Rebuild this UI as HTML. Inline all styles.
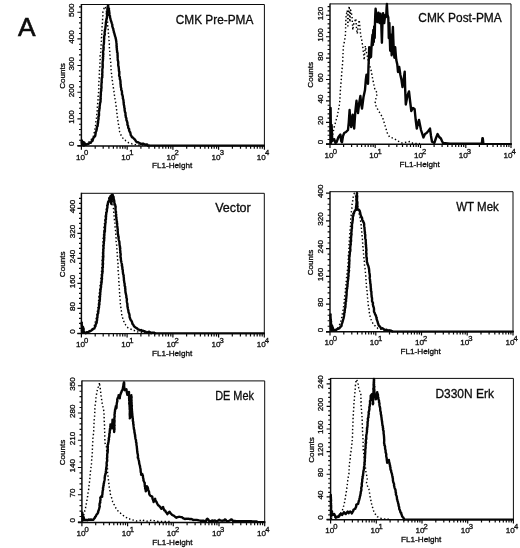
<!DOCTYPE html>
<html lang="en"><head><meta charset="utf-8"><title>Figure A</title>
<style>
html,body{margin:0;padding:0;background:#fff}
body{width:520px;height:548px;overflow:hidden}
svg{display:block}
text{font-family:"Liberation Sans", Arial, Helvetica, sans-serif;fill:#0c0c0c;stroke:#0c0c0c;stroke-width:0.3px}
.t8{font-size:8.1px}
.t7{font-size:7.7px}
.ax{stroke:#0a0a0a;fill:none}
.sol{stroke:#050505;fill:none;stroke-linejoin:round;stroke-linecap:round}
.dot{stroke:#000;stroke-width:1.45;fill:none;stroke-dasharray:1.4 2.3;stroke-linejoin:round}
</style></head>
<body>
<svg width="520" height="548" viewBox="0 0 520 548">
<rect width="520" height="548" fill="#fff"/>
<text x="18.1" y="36.4" style="font-size:26.3px;stroke-width:0.6px">A</text>
<g>
<path class="ax" stroke-width="1" d="M81.4 4.5 H264.4 V145.9"/>
<path class="ax" stroke-width="1.45" d="M81.4 4 V145.9 M77.4 145.9 H264.9"/>
<path class="ax" stroke-width="1.15" d="M77.4 145.5 H81.4M79 140.2 H81.4M79 134.8 H81.4M79 129.5 H81.4M79 124.2 H81.4M77.4 118.8 H81.4M79 113.5 H81.4M79 108.2 H81.4M79 102.8 H81.4M79 97.5 H81.4M77.4 92.2 H81.4M79 86.8 H81.4M79 81.5 H81.4M79 76.2 H81.4M79 70.8 H81.4M77.4 65.5 H81.4M79 60.2 H81.4M79 54.8 H81.4M79 49.5 H81.4M79 44.2 H81.4M77.4 38.8 H81.4M79 33.5 H81.4M79 28.2 H81.4M79 22.8 H81.4M79 17.5 H81.4M77.4 12.2 H81.4M79 6.8 H81.4"/>
<path class="ax" stroke-width="1.2" d="M81.4 145.9 V149.8M95.2 145.9 V148.7M103.2 145.9 V148.7M108.9 145.9 V148.7M113.4 145.9 V148.7M117 145.9 V148.7M120.1 145.9 V148.7M122.7 145.9 V148.7M125.1 145.9 V148.7M127.2 145.9 V149.8M140.9 145.9 V148.7M149 145.9 V148.7M154.7 145.9 V148.7M159.1 145.9 V148.7M162.8 145.9 V148.7M165.8 145.9 V148.7M168.5 145.9 V148.7M170.8 145.9 V148.7M172.9 145.9 V149.8M186.7 145.9 V148.7M194.7 145.9 V148.7M200.4 145.9 V148.7M204.9 145.9 V148.7M208.5 145.9 V148.7M211.6 145.9 V148.7M214.2 145.9 V148.7M216.6 145.9 V148.7M218.6 145.9 V149.8M232.4 145.9 V148.7M240.5 145.9 V148.7M246.2 145.9 V148.7M250.6 145.9 V148.7M254.3 145.9 V148.7M257.3 145.9 V148.7M260 145.9 V148.7M262.3 145.9 V148.7M264.4 145.9 V149.8"/>
<text class="t8" text-anchor="middle" transform="translate(73.9 143.7) rotate(-90)">0</text>
<text class="t8" text-anchor="middle" transform="translate(73.9 117) rotate(-90)">100</text>
<text class="t8" text-anchor="middle" transform="translate(73.9 90.4) rotate(-90)">200</text>
<text class="t8" text-anchor="middle" transform="translate(73.9 63.7) rotate(-90)">300</text>
<text class="t8" text-anchor="middle" transform="translate(73.9 37) rotate(-90)">400</text>
<text class="t8" text-anchor="middle" transform="translate(73.9 10.3) rotate(-90)">500</text>
<text class="t8" text-anchor="middle" transform="translate(64.6 76) rotate(-90)">Counts</text>
<text class="t8" x="76" y="159.6">10<tspan class="t7" dx="-0.9" dy="-4.2">0</tspan></text>
<text class="t8" x="121.2" y="159.6">10<tspan class="t7" dx="-0.9" dy="-4.2">1</tspan></text>
<text class="t8" x="166.4" y="159.6">10<tspan class="t7" dx="-0.9" dy="-4.2">2</tspan></text>
<text class="t8" x="211.6" y="159.6">10<tspan class="t7" dx="-0.9" dy="-4.2">3</tspan></text>
<text class="t8" x="256.8" y="159.6">10<tspan class="t7" dx="-0.9" dy="-4.2">4</tspan></text>
<text class="t8" text-anchor="middle" x="172.1" y="168.4" textLength="40.3" lengthAdjust="spacingAndGlyphs">FL1-Height</text>
<text style="font-size:12px" x="175.8" y="24.3" textLength="77.5" lengthAdjust="spacingAndGlyphs">CMK Pre-PMA</text>
<path class="dot" d="M82 145 L82.9 144.7 L84 144.5 L85 144.6 L85.9 144.6 L86.9 143.8 L87.9 142.8 L88.7 142.4 L89.4 141.3 L90.3 141 L91 139.9 L91.8 138.7 L92.4 137.9 L92.8 136.8 L93.4 136.2 L93.6 135 L94 133.9 L94.2 132.7 L94.2 131.8 L94.6 131 L94.7 130.1 L95 128.9 L95.2 128.1 L95.2 127 L95.5 126.1 L95.7 124.7 L95.9 123.6 L95.9 122.9 L95.9 121.6 L96 120.7 L96.3 119.6 L96.5 118.3 L96.5 117.4 L96.6 116.3 L96.8 115.5 L96.8 114.2 L96.8 113.2 L97 112.3 L97.2 110.9 L97.1 110.1 L97.1 108.9 L97.3 107.7 L97.3 107.1 L97.4 105.7 L97.6 105.1 L97.6 103.8 L97.8 103.1 L98 102 L97.9 100.7 L98 100 L98.2 98.5 L98.1 97.5 L98.1 96.6 L98.3 95.4 L98.2 94.4 L98.3 93.5 L98.6 92.5 L98.5 91.4 L98.6 90 L98.7 89.4 L98.8 88.3 L98.7 87 L98.6 86.1 L98.7 84.7 L98.8 83.8 L98.9 82.6 L98.9 81.7 L99 80.7 L99 80 L99.3 78.5 L99.2 77.6 L99.3 76.4 L99.5 75.9 L99.4 74.6 L99.3 73.3 L99.5 72.4 L99.6 71.2 L99.4 70.7 L99.6 69.2 L99.7 68 L99.7 67.6 L99.9 66.4 L99.7 65.1 L99.7 64.3 L99.9 63.3 L99.9 61.9 L100.1 61.3 L100.1 60.2 L100.2 59.1 L100.1 58 L100.2 56.7 L100.1 55.9 L100.3 55.1 L100.5 54 L100.6 53.3 L100.7 51.9 L100.5 50.8 L100.6 49.8 L100.8 49.2 L100.9 48 L100.9 47.2 L100.8 46.1 L101.1 45.2 L101.1 44 L101 43.1 L101.2 42.1 L101.4 40.9 L101.3 40.2 L101.5 38.7 L101.4 37.7 L101.7 37.1 L101.5 36.1 L101.9 35 L101.7 33.9 L101.7 32.5 L102.1 31.9 L102 31.1 L102 30 L102.2 28.6 L102.1 27.6 L102.1 26.7 L102.2 25.6 L102.2 24.9 L102.3 23.6 L102.5 22.8 L102.5 21.8 L102.6 20.5 L102.6 19.2 L102.6 18.3 L102.6 17.6 L102.7 16.4 L102.9 15.4 L102.8 14.4 L103 13.5 L102.9 12.3 L103.2 11.1 L103.6 10.2 L103.8 9.2 L104.1 8 L105 6.5 L105.5 7.9 L106 9 L106.2 10.3 L106.4 11.4 L106.6 12.1 L106.7 13.5 L106.9 14.1 L106.9 15.4 L107 16.3 L107 17.6 L107.3 18.8 L107.2 19.7 L107.5 20.4 L107.6 22 L107.5 23 L107.6 23.8 L107.9 25 L107.7 25.9 L107.9 26.9 L107.9 27.9 L108.2 28.8 L108.2 30.1 L108.2 31 L108.4 32.2 L108.4 33.5 L108.7 34.6 L108.6 35.2 L108.7 36.6 L108.8 37.2 L109 38.7 L109.2 39.4 L109 40.8 L109.2 41.7 L109.1 42.4 L109.4 43.6 L109.2 45 L109.5 45.9 L109.4 47 L109.4 48 L109.6 48.7 L109.7 50.1 L109.7 50.7 L109.8 51.7 L109.8 52.7 L109.8 53.8 L109.9 54.9 L110.2 55.9 L110.2 56.8 L110.2 57.7 L110.2 58.7 L110.5 60 L110.4 61 L110.7 61.8 L110.7 63 L110.7 64.2 L110.8 65 L110.9 66.3 L110.9 67.2 L111.1 68.1 L111.1 68.9 L111.1 69.8 L111.2 71.1 L111.4 71.8 L111.4 73.2 L111.8 74.1 L111.7 74.8 L111.8 76 L111.9 77 L112.1 78.3 L112.4 79 L112.3 80.3 L112.4 80.9 L112.5 81.9 L112.7 83 L112.8 84 L112.9 84.9 L113.1 85.9 L113.2 86.7 L113.4 87.8 L113.6 89 L113.8 90.1 L114 91.2 L114 91.9 L114.3 92.8 L114.4 94.1 L114.4 95.2 L114.8 96.1 L114.9 97.2 L114.8 98 L115.1 99.2 L115.3 100.2 L115.4 101.2 L115.6 102.1 L115.6 102.7 L115.7 103.9 L115.9 105.2 L116.1 106.1 L116.3 107.1 L116.4 107.7 L116.6 109.1 L116.6 110 L116.8 110.7 L116.9 111.9 L116.8 112.9 L117.1 113.8 L117.3 115.3 L117.3 115.9 L117.4 117.1 L117.6 118.1 L117.7 118.7 L117.7 119.9 L118 120.9 L118.1 121.7 L118.1 122.9 L118.4 124.1 L118.6 124.9 L118.7 126.1 L118.9 126.9 L119.2 128.1 L119.4 129.6 L119.3 130.4 L119.7 131.8 L120.1 132.5 L120.5 134 L120.9 134.9 L121.4 136 L122.3 136.8 L122.9 138.1 L123.6 139.3 L124.3 140.1 L125.2 140.3 L126 141.3 L127 141.9 L127.9 142.3 L128.9 142.9 L129.9 143.2 L131.1 143.2 L132.1 143.9 L133.1 143.9 L134 144.1 L135.1 144.5 L136 144.6 L136.9 144.5 L138 145 L139 145 L140 145.1 L141 145.1 L142 145.1 L143 145.1 L144 145.2 L145 145.2 L146 145.2 L147 145.2 L148 145.2 L149 145.3 L150 145.3"/>
<path class="sol" stroke-width="2.4" d="M81.8 140.5 L81.8 142 L82 143.2 L82.1 143.6 L82.4 144.7 L82.5 144.3 L83 143 L83.1 141.9 L83.4 142.7 L83.5 143.4 L83.7 145.6 L84.1 144.1 L84.2 142.5 L84.9 143.6 L85 144.8 L85.7 144.8 L87.1 144.2 L88.1 144 L89 143.5 L89.8 142.6 L90.9 142.7 L91.7 141.1 L92.5 140.9 L93 139.1 L93.3 138.2 L93.9 137.3 L94.4 136.6 L95 136.4 L95.4 134.9 L95.5 134 L95.7 132.8 L95.8 131.8 L96.5 130.6 L96.5 130.1 L96.9 128.7 L96.8 127.7 L97.1 126.8 L97.6 126.2 L97.8 124.4 L97.6 124 L98.1 122.7 L98.1 121.1 L98.1 121 L98.4 119.8 L98.6 118.1 L98.3 117 L98.7 116.4 L99 115.4 L99 114.3 L99 113.1 L98.9 112.3 L99.1 111.4 L99.4 109.8 L99.3 108.7 L99.7 108.1 L99.5 106.5 L99.8 106 L99.9 104.6 L100.1 103.4 L100.1 102.8 L100.5 102 L100.6 100.8 L100.3 99.5 L100.8 98.9 L100.5 97.2 L100.7 96.7 L100.7 95.3 L100.9 94.9 L100.8 92.9 L100.9 92.3 L101.1 91 L101.3 90.5 L101.2 88.9 L101.5 87.9 L101.5 86.8 L101.3 86.3 L101.4 85.5 L101.5 83.7 L101.5 82.9 L101.8 82.4 L101.6 80.9 L101.7 80.5 L101.7 78.6 L101.8 77.9 L102.3 77.4 L102.2 76.5 L102.4 74.8 L102.1 74.4 L102.4 72.5 L102.4 71.9 L102.3 70.8 L102.3 69.5 L102.4 68.9 L102.7 67.6 L102.8 66.7 L102.5 66.3 L102.8 64.9 L102.5 64 L102.7 63.4 L102.6 61.9 L103 60.5 L102.8 60.3 L103.1 58.5 L102.7 57.6 L103.2 56.8 L103.2 56.4 L103 54.8 L103.4 54.1 L103.1 53.2 L103.1 51.8 L103 51.3 L103.5 50.1 L103.6 48.5 L103.3 48 L103.7 47.5 L103.4 45.8 L103.6 45 L103.9 43.7 L103.9 43.2 L104 42.3 L104 40.8 L104 39.9 L104.3 38.6 L104.1 38.3 L104.2 36.6 L104.2 36.1 L104.4 35.5 L104.8 34.5 L104.6 32.6 L104.6 32 L105 30.9 L104.9 29.9 L105.2 29.2 L105.4 28.3 L105.5 26.6 L105.7 25.8 L105.7 24.9 L105.9 23.7 L105.8 22.7 L105.9 22.4 L106.2 20.8 L106.3 20.5 L106.5 18.7 L106.8 18.2 L107 16.6 L106.9 16.3 L107.2 15.4 L106.8 13.8 L107 12.7 L107.5 12.1 L107.5 10.9 L107.6 9.9 L107.3 9.3 L107.7 7.6 L107.6 7.1 L108.1 5.3 L108.3 6.4 L108.7 8.1 L109 8.8 L108.8 9.9 L109.2 10.9 L109.2 11.9 L109.5 13.3 L109.3 13.9 L109.5 15.5 L110 16.1 L110 17.7 L110.4 18.4 L110.7 20.1 L111 20.8 L111.3 21.7 L111.8 23.3 L111.9 23.6 L112.3 24.6 L112.3 26.4 L112.7 27.4 L113 28.5 L113.3 28.8 L113.4 30.2 L113.9 31.6 L113.9 32.4 L114.4 33.3 L114.5 34.1 L115 35.8 L115.1 36.4 L115.7 37.9 L115.6 38.1 L116.1 40 L116 40.1 L116.3 41.5 L116.4 42.7 L116.5 43.3 L116.6 44.4 L116.5 46.1 L116.8 46.4 L116.6 47.7 L116.9 48.7 L116.8 49.6 L117.2 51.3 L117 52 L117.4 52.5 L117.6 53.6 L117.5 55.1 L117.7 55.8 L117.6 57.1 L117.7 58.2 L117.8 58.9 L117.7 60.1 L118 60.7 L118.3 62.3 L118.2 62.7 L118.3 63.6 L118.2 64.9 L118.3 65.9 L118.6 66.5 L118.7 67.6 L118.9 69.3 L118.9 69.6 L118.9 70.9 L119.3 71.6 L119.3 73.5 L119.3 74.3 L119.1 75.5 L119.4 76.5 L119.8 76.7 L119.9 78.4 L119.7 78.9 L120.2 79.7 L120.4 80.8 L120.5 81.6 L120.5 83.4 L120.5 83.8 L120.8 84.8 L120.7 85.7 L120.9 87.4 L121.3 88.4 L121.2 89.3 L121.3 90 L121.8 90.9 L122 92.1 L122 93.4 L122 94.5 L122.4 94.9 L122.6 95.8 L122.9 97.1 L122.8 98.3 L123 98.7 L123.3 99.5 L123.5 100.8 L123.6 102.5 L123.7 103.2 L123.7 103.5 L123.8 104.6 L124.2 105.9 L124.3 107.4 L124.3 107.7 L124.7 108.5 L124.6 109.9 L124.8 110.9 L125 112.1 L125.4 112.7 L125.5 114 L125.5 115.4 L125.7 115.6 L125.8 117.1 L126.4 118.3 L126.4 118.8 L126.4 120.1 L126.9 120.9 L127.1 121.9 L127.5 123.2 L127.4 124.4 L127.6 125.1 L128.1 125.9 L128.2 127.5 L128.5 128.3 L129.2 129 L129.1 130.5 L129.6 131.6 L130.2 132.3 L130.5 133.6 L130.8 135.3 L131.6 136.2 L131.9 137.1 L133 137.6 L133.6 138.4 L134.1 138.8 L135 139.7 L136 141.3 L137.1 142.3 L138.1 142.2 L139 142.8 L140.1 143.4 L140.9 143.9 L142.2 143.7 L143.2 143.6 L143.9 144 L145.1 144.9 L146.1 144.4 L147.2 144.5 L147.9 145.6"/>
<path class="sol" stroke-width="2" d="M147.9 145.6 H264"/>
</g>
<g>
<path class="ax" stroke-width="1" d="M330 3.9 H511 V144.2"/>
<path class="ax" stroke-width="1.45" d="M330 3.4 V144.2 M326 144.2 H511.5"/>
<path class="ax" stroke-width="1.15" d="M326 143.8 H330M327.6 139.5 H330M327.6 135.2 H330M327.6 130.9 H330M327.6 126.7 H330M326 122.4 H330M327.6 118.1 H330M327.6 113.8 H330M327.6 109.5 H330M327.6 105.2 H330M326 100.9 H330M327.6 96.7 H330M327.6 92.4 H330M327.6 88.1 H330M327.6 83.8 H330M326 79.5 H330M327.6 75.2 H330M327.6 70.9 H330M327.6 66.7 H330M327.6 62.4 H330M326 58.1 H330M327.6 53.8 H330M327.6 49.5 H330M327.6 45.2 H330M327.6 40.9 H330M326 36.7 H330M327.6 32.4 H330M327.6 28.1 H330M327.6 23.8 H330M327.6 19.5 H330M326 15.2 H330M327.6 10.9 H330M327.6 6.6 H330"/>
<path class="ax" stroke-width="1.2" d="M330 144.2 V148.1M343.6 144.2 V147M351.6 144.2 V147M357.2 144.2 V147M361.6 144.2 V147M365.2 144.2 V147M368.2 144.2 V147M370.9 144.2 V147M373.2 144.2 V147M375.2 144.2 V148.1M388.9 144.2 V147M396.8 144.2 V147M402.5 144.2 V147M406.9 144.2 V147M410.5 144.2 V147M413.5 144.2 V147M416.1 144.2 V147M418.4 144.2 V147M420.5 144.2 V148.1M434.1 144.2 V147M442.1 144.2 V147M447.7 144.2 V147M452.1 144.2 V147M455.7 144.2 V147M458.7 144.2 V147M461.4 144.2 V147M463.7 144.2 V147M465.8 144.2 V148.1M479.4 144.2 V147M487.3 144.2 V147M493 144.2 V147M497.4 144.2 V147M501 144.2 V147M504 144.2 V147M506.6 144.2 V147M508.9 144.2 V147M511 144.2 V148.1"/>
<text class="t8" text-anchor="middle" transform="translate(323.1 142) rotate(-90)">0</text>
<text class="t8" text-anchor="middle" transform="translate(323.1 120.6) rotate(-90)">20</text>
<text class="t8" text-anchor="middle" transform="translate(323.1 99.1) rotate(-90)">40</text>
<text class="t8" text-anchor="middle" transform="translate(323.1 77.7) rotate(-90)">60</text>
<text class="t8" text-anchor="middle" transform="translate(323.1 56.3) rotate(-90)">80</text>
<text class="t8" text-anchor="middle" transform="translate(323.1 34.9) rotate(-90)">100</text>
<text class="t8" text-anchor="middle" transform="translate(323.1 13.4) rotate(-90)">120</text>
<text class="t8" text-anchor="middle" transform="translate(313.2 74.8) rotate(-90)">Counts</text>
<text class="t8" x="324.6" y="157.9">10<tspan class="t7" dx="-0.9" dy="-4.2">0</tspan></text>
<text class="t8" x="369.3" y="157.9">10<tspan class="t7" dx="-0.9" dy="-4.2">1</tspan></text>
<text class="t8" x="414" y="157.9">10<tspan class="t7" dx="-0.9" dy="-4.2">2</tspan></text>
<text class="t8" x="458.7" y="157.9">10<tspan class="t7" dx="-0.9" dy="-4.2">3</tspan></text>
<text class="t8" x="503.4" y="157.9">10<tspan class="t7" dx="-0.9" dy="-4.2">4</tspan></text>
<text class="t8" text-anchor="middle" x="419.7" y="166.7" textLength="40.3" lengthAdjust="spacingAndGlyphs">FL1-Height</text>
<text style="font-size:12px" x="418.3" y="22.1" textLength="83.4" lengthAdjust="spacingAndGlyphs">CMK Post-PMA</text>
<path class="dot" d="M331 142 L332.7 134.6 L334.2 127 L337.3 116 L339.6 103.8 L340.4 90 L341.6 75 L342.7 61.5 L343.3 47 L344.4 41.5 L345.5 34.6 L345.7 23 L346.2 15 L347.3 10.4 L347.9 26 L348.5 12 L349.2 6.2 L349.9 22 L350.6 10 L351.3 13 L352 15.4 L352.8 30 L353.5 24.6 L354.6 22 L355.8 18.5 L356.5 28 L357.3 33.8 L358.2 26 L359.2 20 L360 28 L360.7 35.4 L361.7 40 L362.7 46 L363.5 53 L364.2 60 L364.8 52 L365.3 46 L366 50 L366.5 52.3 L368.5 62 L371.2 70.8 L372.7 79 L375 90 L377.3 93 L376 98 L375 103.8 L376.5 107 L378 110 L380.5 114 L382.7 117.7 L385 125.4 L387.3 133 L389.6 137 L394.2 138.5 L397.3 140.8 L402 143 L410 141.5 L413 143.5 L420 143.6"/>
<path class="sol" stroke-width="2.4" d="M330.6 108 L331 143 L331.6 125 L332.3 141 L334.2 139.2 L335.5 143 L336.5 142.3 L338.5 137 L340.4 134.6 L341.2 141 L342 142.3 L343 136 L344.2 133 L346 132 L348 130 L348.8 122 L349.6 110 L350.4 122 L351.2 127 L352 118 L352.7 114.6 L353.5 124 L354.2 128.5 L355.3 112 L356.5 100.8 L357.2 108 L358 113 L359.2 103 L360.4 96 L361.2 104 L362 108.5 L363.5 97 L365 90 L365.8 80 L366.5 74.6 L367.2 80 L368 83.8 L368.5 66 L368.9 58 L369.2 47.3 L369.8 58 L370.4 47.5 L371 57 L371.5 46.7 L372 40 L372.5 34.6 L372.9 45 L373.3 30 L373.8 42 L374.2 26.5 L374.7 38 L375 23 L375.3 14 L375.6 8.7 L376.1 13 L376.7 15 L377 21 L377.3 22 L377.9 16 L378.5 12.7 L379 19 L379.6 23 L380 17 L380.5 13.8 L380.9 20 L381.3 24.2 L381.6 34 L381.9 42.7 L382.2 32 L382.5 23 L382.8 17 L383.1 13.3 L383.6 19 L384.2 23 L384.8 18 L385.4 15 L385.9 17 L386.3 13.8 L386.6 8 L386.9 4 L387.2 10 L387.5 15 L388.3 17.3 L388.6 29 L388.8 38 L389.1 29 L389.4 23 L389.8 38 L390.2 50.8 L390.6 42 L390.9 34.6 L391.3 46 L391.7 55.4 L392.3 40 L392.9 27 L393.3 39 L393.7 48.5 L394.4 57.7 L395.2 47.3 L395.8 55 L396.3 60 L397.3 64.6 L398 72 L399.2 67 L400.4 75 L401.5 80 L402.5 87 L403.6 80 L404.7 71.6 L405.2 90 L405.8 104.5 L407.4 96 L409 91.4 L410.2 102 L411.3 111 L413 108 L414.6 109 L415.7 120 L416.8 128.6 L418 123 L419 120 L421 130 L423.4 137.4 L425 134 L426.6 133 L428.3 131 L430 128.6 L431 136 L432 141.8 L434.3 143 L436 138 L437.6 134 L439.2 137 L440.9 138.5 L442 141 L443 143 L450 143.8 L470 143.8 L481.8 143.8 L482.4 138.3 L482.8 138.3 L483.4 143.8"/>
<path class="sol" stroke-width="2" d="M483.4 143.9 H511"/>
</g>
<g>
<path class="ax" stroke-width="1" d="M81.4 193.3 H264.3 V333.6"/>
<path class="ax" stroke-width="1.45" d="M81.4 192.8 V333.6 M77.4 333.6 H264.8"/>
<path class="ax" stroke-width="1.15" d="M77.4 333.3 H81.4M79 328.3 H81.4M79 323.3 H81.4M79 318.3 H81.4M79 313.3 H81.4M77.4 308.3 H81.4M79 303.3 H81.4M79 298.3 H81.4M79 293.3 H81.4M79 288.3 H81.4M77.4 283.3 H81.4M79 278.3 H81.4M79 273.3 H81.4M79 268.3 H81.4M79 263.3 H81.4M77.4 258.3 H81.4M79 253.3 H81.4M79 248.3 H81.4M79 243.3 H81.4M79 238.3 H81.4M77.4 233.3 H81.4M79 228.3 H81.4M79 223.3 H81.4M79 218.3 H81.4M79 213.3 H81.4M77.4 208.3 H81.4M79 203.3 H81.4M79 198.3 H81.4"/>
<path class="ax" stroke-width="1.2" d="M81.4 333.6 V337.5M95.2 333.6 V336.4M103.2 333.6 V336.4M108.9 333.6 V336.4M113.4 333.6 V336.4M117 333.6 V336.4M120 333.6 V336.4M122.7 333.6 V336.4M125 333.6 V336.4M127.1 333.6 V337.5M140.9 333.6 V336.4M148.9 333.6 V336.4M154.7 333.6 V336.4M159.1 333.6 V336.4M162.7 333.6 V336.4M165.8 333.6 V336.4M168.4 333.6 V336.4M170.8 333.6 V336.4M172.9 333.6 V337.5M186.6 333.6 V336.4M194.7 333.6 V336.4M200.4 333.6 V336.4M204.8 333.6 V336.4M208.4 333.6 V336.4M211.5 333.6 V336.4M214.1 333.6 V336.4M216.5 333.6 V336.4M218.6 333.6 V337.5M232.3 333.6 V336.4M240.4 333.6 V336.4M246.1 333.6 V336.4M250.5 333.6 V336.4M254.2 333.6 V336.4M257.2 333.6 V336.4M259.9 333.6 V336.4M262.2 333.6 V336.4M264.3 333.6 V337.5"/>
<text class="t8" text-anchor="middle" transform="translate(74.6 331.5) rotate(-90)">0</text>
<text class="t8" text-anchor="middle" transform="translate(74.6 306.5) rotate(-90)">80</text>
<text class="t8" text-anchor="middle" transform="translate(74.6 281.5) rotate(-90)">160</text>
<text class="t8" text-anchor="middle" transform="translate(74.6 256.5) rotate(-90)">240</text>
<text class="t8" text-anchor="middle" transform="translate(74.6 231.5) rotate(-90)">320</text>
<text class="t8" text-anchor="middle" transform="translate(74.6 206.5) rotate(-90)">400</text>
<text class="t8" text-anchor="middle" transform="translate(64.6 264.3) rotate(-90)">Counts</text>
<text class="t8" x="76" y="347.3">10<tspan class="t7" dx="-0.9" dy="-4.2">0</tspan></text>
<text class="t8" x="121.2" y="347.3">10<tspan class="t7" dx="-0.9" dy="-4.2">1</tspan></text>
<text class="t8" x="166.4" y="347.3">10<tspan class="t7" dx="-0.9" dy="-4.2">2</tspan></text>
<text class="t8" x="211.5" y="347.3">10<tspan class="t7" dx="-0.9" dy="-4.2">3</tspan></text>
<text class="t8" x="256.7" y="347.3">10<tspan class="t7" dx="-0.9" dy="-4.2">4</tspan></text>
<text class="t8" text-anchor="middle" x="172.1" y="356.1" textLength="40.3" lengthAdjust="spacingAndGlyphs">FL1-Height</text>
<text style="font-size:12px" x="215.2" y="212" textLength="35.6" lengthAdjust="spacingAndGlyphs">Vector</text>
<path class="dot" d="M82 332.5 L83.1 332.6 L84 332.4 L85 332 L85.9 332.1 L86.9 331.9 L87.9 331 L88.9 331.1 L90 330.3 L90.7 329.5 L91.8 329.1 L92.7 328.4 L93.4 327.6 L93.8 326.6 L94.4 325.6 L94.5 324.5 L95.2 323.4 L95.3 321.9 L95.7 320.7 L96.1 320.2 L96.2 319.2 L96.3 317.9 L96.3 316.8 L96.7 315.8 L96.7 315 L96.8 313.9 L97 313.1 L97.2 311.9 L97.5 311 L97.6 310.1 L97.5 308.9 L97.8 308.2 L98 307.1 L98.1 305.8 L98.3 304.8 L98.4 303.8 L98.3 302.8 L98.6 302.3 L98.5 301 L98.7 300.2 L98.7 299 L98.9 298.2 L98.9 297.3 L99 295.8 L99.3 295 L99.2 294.1 L99.3 293.2 L99.6 292.2 L99.6 290.9 L99.7 289.9 L99.9 288.8 L100 287.7 L99.9 286.9 L100.2 286 L100.2 285.2 L100.3 284 L100.5 283.2 L100.6 282.1 L100.6 280.9 L100.7 280.2 L100.9 279.1 L100.9 278 L101.2 277 L101.1 276 L101.4 274.8 L101.3 273.9 L101.6 273.2 L101.5 271.8 L101.6 270.9 L101.7 269.8 L101.7 268.8 L102 268.1 L101.8 267.3 L101.8 265.9 L102.1 265.2 L102.1 264 L102 263.1 L102.1 261.8 L102.2 260.7 L102.3 260.2 L102.4 259 L102.4 258 L102.3 257.1 L102.4 256.1 L102.6 255 L102.6 254.1 L102.5 252.8 L102.7 252.2 L102.7 251.1 L102.8 250.1 L102.7 249 L102.7 248.1 L102.6 247 L102.9 246.1 L102.9 244.9 L102.9 244 L103 242.9 L103.1 242.3 L103.1 241.1 L103.3 239.9 L103.3 239.3 L103.2 238 L103.3 237.2 L103.6 236 L103.5 235 L103.7 234.1 L103.7 233.1 L103.9 232 L103.8 231.3 L103.8 230.1 L104 229.2 L103.9 228.3 L104.1 226.7 L104.1 225.9 L104.2 225 L104.4 224.1 L104.5 222.9 L104.6 222.1 L104.9 221 L104.8 220.2 L105 218.8 L105 218.2 L105.3 217.1 L105.3 216 L105.4 215.3 L105.5 214.1 L105.8 213.2 L105.8 211.9 L106 210.8 L106.2 209.9 L106.4 208.9 L106.4 207.9 L106.6 206.8 L106.7 206.1 L106.9 204.8 L107.1 204 L107.3 203.1 L107.7 201.8 L108.1 201 L108.2 199.9 L108.8 198.8 L108.9 197.8 L109.4 196.2 L110.1 196 L111 194.9 L111.3 195.8 L111.7 197.2 L112.1 197.8 L112.6 199.2 L112.5 200.2 L112.7 201.2 L112.9 202.2 L113 203.2 L112.9 204.1 L113.1 205.1 L113.2 206.2 L113.3 206.9 L113.3 207.8 L113.5 208.7 L113.6 209.8 L113.7 211.1 L113.8 212.4 L113.8 213.4 L114 214.3 L114.1 215.6 L114.2 216.4 L114.4 217.3 L114.4 218.7 L114.4 219.7 L114.7 221 L114.6 222.1 L114.8 222.8 L115 223.6 L115 224.9 L115 226.1 L115.1 226.9 L115.3 228.1 L115.3 228.9 L115.4 230 L115.6 230.8 L115.7 231.9 L115.7 232.8 L115.8 234.3 L115.9 235.2 L115.9 236 L115.9 237.2 L116.1 238.3 L116 239.3 L116.3 240.2 L116.1 241.1 L116.2 242.1 L116.5 243.4 L116.5 244.5 L116.7 245.4 L116.6 246.5 L116.7 247.5 L116.8 248.3 L116.9 249.5 L117 250.3 L116.9 251.3 L117.2 252.9 L117.2 253.6 L117.4 254.9 L117.4 255.6 L117.4 256.7 L117.5 257.8 L117.7 259.1 L117.6 259.9 L117.7 260.7 L118 262 L118.1 263 L117.9 264 L118.1 265.3 L118.3 266.1 L118.1 266.9 L118.2 268 L118.1 268.9 L118.1 270.4 L118.2 271.6 L118.2 272.6 L118.3 273.1 L118.5 274.3 L118.6 275.3 L118.4 276.6 L118.7 277.7 L118.8 278.3 L118.8 279.7 L118.8 280.8 L118.8 281.9 L119 282.3 L118.9 283.8 L119.2 284.4 L119.1 285.9 L119.1 287 L119.2 287.5 L119.3 288.8 L119.4 289.9 L119.3 291 L119.5 291.9 L119.6 292.8 L119.6 294 L119.9 295.1 L119.8 295.8 L119.8 297.2 L120 298.1 L120 299 L120.2 300.1 L120.2 300.8 L120.2 302.2 L120.3 303.1 L120.4 304.2 L120.6 304.9 L120.5 305.9 L120.8 307.2 L121 308.4 L120.9 309.4 L121.3 310.5 L121.4 311.2 L121.6 312.5 L121.7 313.6 L121.7 314.2 L121.9 315.6 L121.9 316.7 L122.5 317.4 L122.8 318.6 L123.1 319.4 L123.4 320.7 L123.9 321.6 L124.1 322.8 L124.9 323.4 L125.5 324.7 L126.2 325.4 L126.7 326.3 L127.2 327 L128.1 327.9 L129.1 328.4 L130.1 328.9 L131 329.2 L132.1 329.9 L133 330.5 L134.3 330.5 L135.4 331 L136.5 331.2 L137.4 331.9 L138.7 331.8 L139.7 331.8 L140.8 332 L141.9 332.3 L143 332.6 L143.9 332.2 L145 332.6"/>
<path class="sol" stroke-width="2.4" d="M81.8 322.6 L81.7 323.3 L81.7 324.2 L82 326.1 L82 327.2 L82.3 327.4 L82.2 328.8 L82 330.4 L82.1 331 L82.4 332.5 L82.5 330.9 L82.6 329.7 L83 329.5 L82.7 327.5 L82.9 326.9 L83.4 328.5 L83.6 328.7 L83.7 330.4 L83.9 331.8 L83.8 332 L85.9 333.2 L87 332.1 L88.1 332.3 L89.1 331.6 L90.3 331.1 L91.3 330.5 L92.2 329.8 L93.3 329 L94.3 328.5 L94.4 328.2 L94.8 327.2 L95.5 326.1 L95.6 324.6 L95.9 324.1 L96.7 322.7 L96.7 321.4 L97 320.5 L97.1 319.1 L97.1 317.9 L97.5 317.3 L97.4 316.6 L97.6 315.1 L97.7 313.9 L98.3 312.9 L98.1 312 L98.4 311.3 L98.4 310.3 L98.6 309.2 L99 307.5 L99 306.6 L99 305.5 L99.1 305.3 L99.5 304.2 L99.2 302.6 L99.7 301.4 L99.7 300.6 L99.9 299.3 L99.9 298.6 L99.7 297.3 L100.1 296.8 L99.9 295.7 L100.3 294.5 L100.2 293.4 L100.1 293.1 L100.5 291.5 L100.3 290.4 L100.7 289.8 L100.6 288.4 L100.9 287.9 L101.1 286.8 L100.9 285.2 L101.3 284.6 L101.4 283.2 L101.6 282.4 L101.7 281.9 L101.6 280.1 L101.9 279.5 L102 278.3 L101.8 277.8 L102 276.1 L102.1 275.5 L102 274.4 L102.4 273.4 L102.3 272.6 L102.7 271.7 L102.5 270.5 L102.6 269.5 L102.4 268.6 L102.9 267.2 L102.8 266.2 L102.8 264.7 L103.1 263.9 L102.8 262.7 L102.9 262.4 L102.8 260.7 L103.2 259.7 L102.9 259.1 L103.2 258 L103.3 256.6 L103.4 256.1 L103.1 254.5 L103.3 253.8 L103.2 252.4 L103.3 251.4 L103.4 251 L103.2 249.7 L103.6 248.3 L103.6 248 L103.4 246.4 L103.7 245.5 L103.6 244.9 L103.9 243.3 L103.7 242.3 L103.8 242 L104.1 240.9 L104.2 239.8 L103.9 238.5 L104.4 237.9 L104.1 236.4 L104.4 235.4 L104.4 234.1 L104.4 233.5 L104.3 232.1 L104.9 231.8 L104.9 230.6 L104.9 229.9 L105 228 L105 227.3 L105.1 226.3 L105.1 225.9 L105.3 224.1 L105.4 223.2 L105.7 222 L105.5 221.3 L105.5 220.2 L106 219 L105.8 217.9 L106.1 216.5 L106 215.4 L106.2 214.6 L106.3 213.4 L106.3 212.6 L106.8 211.7 L106.9 210.7 L106.9 209.7 L107.1 208.6 L107.4 207.5 L107.4 206.2 L107.5 205.5 L107.8 204.5 L107.8 203.3 L108.5 202.1 L108.7 201.3 L108.9 200.8 L109.2 199.5 L109.5 197.8 L110.2 197.1 L110.4 196.4 L110.7 197.8 L110.6 198.4 L111.1 200 L110.8 200.6 L111 202 L111.2 203.3 L111.4 204 L111.4 203.2 L111.5 201.8 L111.6 200.9 L111.7 199.3 L111.8 198.1 L111.8 197.6 L111.7 196.8 L111.9 195.2 L112 194.6 L112.7 194.9 L113 196.1 L113.6 197 L113.6 198.3 L113.8 199.1 L114.2 200.6 L114.3 201.3 L114.3 202.2 L114.5 203.5 L114.9 204 L115.3 205.3 L115.5 206.8 L115.6 207.2 L115.5 209 L115.4 209.1 L115.7 210.6 L116 211.9 L115.9 213.1 L116 213.7 L116.2 214.6 L116.1 215.8 L116.2 217.2 L116.5 217.8 L116.3 218.7 L116.6 219.9 L116.7 221.2 L117 221.8 L116.9 223 L117.2 223.7 L117.1 225.2 L117 225.7 L117.5 227.2 L117.4 227.5 L117.7 229.1 L117.8 230.4 L117.9 230.9 L117.6 231.8 L117.9 233 L117.8 233.7 L118.2 235.1 L118.3 236.6 L118.6 236.7 L118.6 238.5 L118.7 239.4 L118.8 240.1 L119.3 241.4 L119.4 242 L119.5 243.4 L119.5 244.6 L119.8 246 L120 246.4 L119.9 247.2 L120.3 248.2 L120 249.3 L120.3 251 L120.4 252 L120.2 252.3 L120.6 253.6 L120.7 254.7 L120.5 255.7 L120.5 257.4 L120.8 257.8 L120.9 258.9 L120.9 260.4 L121.3 261.5 L121.4 262.2 L121.5 262.7 L122 264.5 L121.8 265.6 L122.2 266 L122.3 267.7 L122.4 268.7 L122.4 269.2 L122.8 270 L122.8 271.7 L123 272.7 L123 273.2 L123.2 274.3 L123.7 275.4 L123.6 276.3 L123.8 277.7 L123.9 278.4 L123.9 280.3 L124.1 280.7 L124.2 281.8 L124.3 282.6 L124.7 283.9 L124.6 285.3 L124.7 285.9 L125.2 286.8 L125.1 288.6 L125.4 288.9 L125.3 290.5 L125.5 291.8 L125.5 292.8 L125.8 293.1 L125.9 294.1 L126.2 295.2 L126.4 296.6 L126.3 297.3 L126.6 298.2 L126.9 299.2 L126.8 300.6 L126.9 301.9 L127.1 302.8 L127.3 303.5 L127.4 304.3 L127.4 306.1 L127.6 306.9 L127.7 307.8 L127.9 308.8 L128.1 309.4 L128.4 310.7 L128.5 312.2 L128.9 313 L129.4 314.4 L129.6 315.6 L129.5 316.1 L129.7 317.5 L130.2 318.3 L130.4 319.7 L131 320.2 L131.7 321.4 L132.1 322.2 L132.4 323.9 L133.2 324.7 L133.4 325 L134 326.2 L135.1 327.1 L135.9 327.8 L137.1 328.4 L138.2 329.6 L139.1 329.6 L140 330.4 L141 330 L142.3 331.1 L143.1 330.7 L144.4 331.6 L145.1 331.4 L146.2 332.1 L147.4 332.4 L148.8 331.7 L149.9 332.2 L151 333.2 L152 332.6 L153 332.6 L154 332.6 L155 333.2"/>
<path class="sol" stroke-width="2" d="M155 333.3 H264"/>
</g>
<g>
<path class="ax" stroke-width="1" d="M330 191.7 H513 V331.7"/>
<path class="ax" stroke-width="1.45" d="M330 191.2 V331.7 M326 331.7 H513.5"/>
<path class="ax" stroke-width="1.15" d="M326 331.8 H330M327.6 326.2 H330M327.6 320.7 H330M327.6 315.2 H330M327.6 309.6 H330M326 304.1 H330M327.6 298.5 H330M327.6 292.9 H330M327.6 287.4 H330M327.6 281.9 H330M326 276.3 H330M327.6 270.8 H330M327.6 265.2 H330M327.6 259.6 H330M327.6 254.1 H330M326 248.6 H330M327.6 243 H330M327.6 237.5 H330M327.6 231.9 H330M327.6 226.4 H330M326 220.8 H330M327.6 215.2 H330M327.6 209.7 H330M327.6 204.2 H330M327.6 198.6 H330M326 193.1 H330"/>
<path class="ax" stroke-width="1.2" d="M330 331.7 V335.6M343.8 331.7 V334.5M351.8 331.7 V334.5M357.5 331.7 V334.5M362 331.7 V334.5M365.6 331.7 V334.5M368.7 331.7 V334.5M371.3 331.7 V334.5M373.7 331.7 V334.5M375.8 331.7 V335.6M389.5 331.7 V334.5M397.6 331.7 V334.5M403.3 331.7 V334.5M407.7 331.7 V334.5M411.4 331.7 V334.5M414.4 331.7 V334.5M417.1 331.7 V334.5M419.4 331.7 V334.5M421.5 331.7 V335.6M435.3 331.7 V334.5M443.3 331.7 V334.5M449 331.7 V334.5M453.5 331.7 V334.5M457.1 331.7 V334.5M460.2 331.7 V334.5M462.8 331.7 V334.5M465.2 331.7 V334.5M467.2 331.7 V335.6M481 331.7 V334.5M489.1 331.7 V334.5M494.8 331.7 V334.5M499.2 331.7 V334.5M502.9 331.7 V334.5M505.9 331.7 V334.5M508.6 331.7 V334.5M510.9 331.7 V334.5M513 331.7 V335.6"/>
<text class="t8" text-anchor="middle" transform="translate(323.1 330) rotate(-90)">0</text>
<text class="t8" text-anchor="middle" transform="translate(323.1 302.2) rotate(-90)">80</text>
<text class="t8" text-anchor="middle" transform="translate(323.1 274.5) rotate(-90)">160</text>
<text class="t8" text-anchor="middle" transform="translate(323.1 246.8) rotate(-90)">240</text>
<text class="t8" text-anchor="middle" transform="translate(323.1 219) rotate(-90)">320</text>
<text class="t8" text-anchor="middle" transform="translate(323.1 191.2) rotate(-90)">400</text>
<text class="t8" text-anchor="middle" transform="translate(313.2 262.5) rotate(-90)">Counts</text>
<text class="t8" x="324.6" y="345.4">10<tspan class="t7" dx="-0.9" dy="-4.2">0</tspan></text>
<text class="t8" x="369.8" y="345.4">10<tspan class="t7" dx="-0.9" dy="-4.2">1</tspan></text>
<text class="t8" x="415" y="345.4">10<tspan class="t7" dx="-0.9" dy="-4.2">2</tspan></text>
<text class="t8" x="460.2" y="345.4">10<tspan class="t7" dx="-0.9" dy="-4.2">3</tspan></text>
<text class="t8" x="505.4" y="345.4">10<tspan class="t7" dx="-0.9" dy="-4.2">4</tspan></text>
<text class="t8" text-anchor="middle" x="420.7" y="354.2" textLength="40.3" lengthAdjust="spacingAndGlyphs">FL1-Height</text>
<text style="font-size:12px" x="456.2" y="210.8" textLength="42.6" lengthAdjust="spacingAndGlyphs">WT Mek</text>
<path class="dot" d="M331 331 L331.9 330.5 L333.1 330.5 L334.1 330.4 L335.1 330.2 L335.9 329.3 L336.6 328.9 L337.6 328.1 L338.6 327.3 L339 326.2 L339.3 325.7 L339.6 324.6 L340.2 323.6 L340.4 322.4 L340.7 321.5 L341.2 320.4 L341.3 319.4 L341.6 318.7 L341.7 317.4 L342 316.5 L342.3 315.4 L342.3 314.7 L342.4 313.5 L342.7 312.6 L342.9 311.5 L343 310.4 L343.3 309.3 L343.6 308.5 L343.5 307.1 L343.7 306 L343.7 305 L343.9 304.2 L344.1 302.8 L344.1 301.9 L344.3 300.7 L344.3 299.5 L344.7 298.9 L344.5 297.8 L344.9 296.7 L344.8 295.6 L345 294.3 L345.1 293.2 L345.3 292.5 L345.3 291.7 L345.4 290.2 L345.4 289.1 L345.5 288.5 L345.8 287.1 L345.7 286.3 L346 285.5 L345.9 284.3 L346.2 283.3 L346.1 281.9 L346.4 281 L346.4 280.1 L346.5 279.2 L346.5 277.7 L346.7 277 L346.9 276.1 L347 275.2 L347 273.9 L347 272.8 L347.2 271.6 L347.4 270.6 L347.4 270.1 L347.4 268.5 L347.6 267.6 L347.8 266.5 L347.9 266 L348 264.7 L347.9 263.8 L348.1 262.6 L348.1 261.6 L348.2 260.9 L348.3 259.4 L348.2 258.6 L348.3 257.5 L348.3 256.4 L348.3 255.6 L348.6 254.8 L348.6 253.9 L348.7 252.6 L348.7 251.3 L348.7 250.6 L348.6 249.6 L348.9 248.5 L348.8 247.4 L348.8 246.7 L348.8 245.2 L349.1 244.4 L349 243.5 L349.2 242.4 L349.3 241.3 L349.4 240.2 L349.3 239 L349.6 238.2 L349.5 237.4 L349.6 235.9 L349.8 235 L349.8 234.1 L349.8 233.1 L349.9 232 L350.1 230.7 L350.1 229.7 L350.2 229.2 L350.3 228.1 L350.4 226.7 L350.5 226 L350.3 225.1 L350.5 223.7 L350.7 222.9 L350.7 221.6 L350.8 220.6 L350.7 219.7 L350.7 218.8 L350.8 217.6 L351.1 216.7 L351.2 215.8 L351.2 214.8 L351.3 213.9 L351.2 212.8 L351.4 211.7 L351.6 210.7 L351.5 209.3 L351.8 208.6 L352 207 L352 206 L352.1 205.3 L352.1 204.3 L352.4 202.9 L352.4 201.9 L352.7 200.9 L352.6 199.5 L352.8 198.8 L353.1 197.6 L353.4 196.5 L353.7 195.1 L354.1 194.2 L354.3 193.2 L354.8 193.7 L355.1 194.8 L355.6 196.2 L355.9 196.7 L355.9 198.2 L356.3 198.9 L356.4 199.8 L356.7 200.9 L356.9 202.1 L356.9 202.9 L357.1 204.2 L357.5 204.7 L357.5 205.9 L357.8 207 L358 207.9 L358.1 209 L358.5 209.7 L358.7 211.3 L358.7 211.8 L359.1 212.9 L359.2 214 L359.4 215 L359.6 216.3 L360 216.7 L360 218.2 L360.3 219.2 L360.4 220.2 L360.6 221.1 L360.9 222.6 L361.1 223.5 L361.1 224.7 L361.4 225.5 L361.4 226.5 L361.5 227.5 L361.4 228.5 L361.5 229.9 L361.7 230.5 L361.7 231.5 L361.8 232.4 L361.8 233.9 L362 234.7 L362.1 235.6 L362.1 236.5 L362.2 237.6 L362.4 238.8 L362.5 239.7 L362.6 240.9 L362.4 241.7 L362.7 243.3 L362.7 244.2 L362.8 245.4 L362.8 246.2 L363.1 247.2 L363 248.1 L363.1 249.3 L363.3 250.3 L363.3 251.4 L363.4 252.8 L363.5 253.5 L363.7 255 L363.7 255.5 L363.9 257.1 L363.9 257.7 L363.9 258.9 L364.2 260 L364.3 260.8 L364.3 262.2 L364.5 263 L364.6 264 L364.5 265.1 L364.6 266.3 L364.8 267.2 L365 268.1 L365.1 269 L365.3 270.4 L365.4 271.1 L365.4 272.6 L365.4 273.2 L365.4 274.3 L365.7 275.3 L365.8 276.5 L365.8 277.6 L365.9 278.7 L366 279.5 L366.1 280.5 L366.2 281.8 L366.3 282.6 L366.3 284 L366.3 284.6 L366.4 286 L366.4 286.5 L366.6 287.9 L366.8 288.8 L366.9 289.7 L367 290.7 L366.9 291.7 L367 293 L367.2 293.8 L367.4 294.9 L367.3 295.8 L367.6 297.3 L367.5 297.8 L367.8 299 L367.9 300.1 L367.9 301.1 L368.1 302.2 L368.1 303.5 L368.1 304.4 L368.3 305.4 L368.5 306.5 L368.5 307.4 L368.8 308.6 L369.1 309.5 L369 310.3 L369.1 311.4 L369.3 312.3 L369.5 313.6 L369.5 314.8 L369.9 315.6 L370.2 316.9 L370.7 317.6 L371 319 L371.2 319.8 L371.7 321.2 L371.9 322.1 L372.6 322.8 L373.2 323.8 L373.7 324.6 L374.4 325.4 L375.1 325.8 L376.1 327.1 L376.9 327.2 L377.9 328.6 L378.9 328.9 L379.9 329.2 L380.9 329.2 L382.1 329.5 L383 330.4 L384.1 330.7 L385.1 330.3 L385.9 330.8 L387.1 330.4 L388 330.6 L389 330.6 L389.9 331.2 L390.9 331.2 L392 331"/>
<path class="sol" stroke-width="2.4" d="M330.6 314.5 L330.5 315.5 L330.5 316.5 L330.6 317.8 L330.6 318.9 L330.8 319.3 L330.8 320.7 L331.1 321.6 L330.8 323.2 L331.2 324 L330.9 324.5 L330.9 325.4 L330.9 326.9 L331.1 328 L331.1 328.5 L331.3 330.2 L331.4 329 L331.6 328.5 L331.9 327.2 L331.8 325.8 L332 325.5 L332.1 326 L332.4 326.8 L332.8 327.8 L332.9 329.8 L332.9 330.6 L334.1 330.3 L335 329.8 L336.2 330.1 L337.2 328.9 L338 328.8 L338.9 328.6 L339.5 328.2 L340.2 327.1 L341.4 326 L341.6 325.4 L341.7 324 L342.3 322.7 L342.6 321.6 L342.8 320.8 L343.2 319.4 L343.5 318.6 L343.7 317.6 L343.8 316.9 L344.1 315.7 L344.2 314.4 L344.2 313.1 L344.7 312.4 L344.6 311.4 L344.9 310.1 L344.7 309.7 L345 308.5 L345.3 307.7 L345.5 305.8 L345.3 305.6 L345.7 303.9 L345.5 303 L345.6 302.1 L346.1 301.2 L346 299.7 L346 299.6 L346.3 298 L346.3 297.4 L346.5 295.7 L346.6 294.9 L346.6 293.7 L346.6 292.8 L346.7 291.5 L346.8 291 L346.8 289.6 L347.2 288.6 L347.1 287.6 L347.5 286.4 L347.5 286.1 L347.4 284.7 L347.7 283.8 L347.6 282.2 L347.8 281.5 L348 280.4 L348 279.8 L348.3 278.4 L348.1 277.6 L348.5 276.2 L348.6 275.7 L348.4 274.6 L348.5 273 L348.8 272.3 L348.8 271.4 L349.1 270.6 L348.7 269.4 L348.9 268.3 L349.2 267.2 L349.1 266.7 L349.1 265.2 L349.2 264.5 L349.3 263.4 L349.2 261.7 L349.4 261.2 L349.5 260.4 L349.2 258.8 L349.3 258.4 L349.3 256.6 L349.7 256.1 L349.5 255.1 L349.9 253.9 L349.7 253 L350 251.8 L350.3 251 L350.4 249.3 L350.2 248.6 L350.2 248 L350.4 246.2 L350.5 245.2 L350.8 244.5 L350.7 243.3 L350.5 242.1 L351 241.6 L351.1 240 L350.8 238.8 L351.1 238.1 L351.1 237.2 L351.2 236 L351.4 234.8 L351.6 234.1 L351.2 232.8 L351.5 231.9 L351.6 230.8 L351.6 230.2 L351.7 229 L352 227.9 L351.9 227.2 L352 226.1 L351.9 224.6 L352.3 223.1 L352.5 222.1 L352.5 221.1 L352.7 220.5 L352.8 219.4 L352.8 218.5 L352.8 216.9 L353.3 215.8 L353.5 214.8 L353.3 213.6 L354 213.2 L354.3 211.7 L355.2 210.4 L356.3 209.1 L356 208.6 L356 207.6 L356.2 206 L356.4 205 L356.4 203.8 L356.6 203 L356.6 201.7 L356.6 201.5 L356.4 199.5 L356.5 199.1 L356.4 197.9 L356.4 196.8 L356.8 195.7 L356.8 194.3 L356.9 193.3 L357 193.1 L357.1 193.7 L356.8 194.6 L357.1 195.8 L357.2 196.4 L357 198.2 L357.1 199 L356.9 199.6 L357 201.4 L357.3 201.8 L357.4 202.7 L357.3 204.6 L357.2 205.7 L357.4 205.8 L357.2 207.3 L357.2 208.6 L357.2 209.7 L358.4 209.4 L359.6 210.6 L360 212.3 L360.3 213 L360.4 214.1 L360.8 215.3 L361.1 216.3 L361.6 217.1 L362.1 218 L362.2 219.8 L362.6 220.7 L363.3 221.4 L363.3 222 L364 223.1 L364.2 224.5 L364.1 225.5 L364.3 226.7 L364.5 227.6 L364.5 228.7 L364.6 229.5 L364.7 231.3 L365 232.4 L364.8 233.5 L365.2 234.4 L365.3 235.4 L365.2 236.5 L365.2 237 L365.2 238.2 L365.5 239.1 L365.8 239.9 L365.7 241.1 L365.8 242.7 L365.9 243 L365.7 244.5 L366.1 245 L366 246.7 L366.2 247.4 L366.2 248.5 L366.4 249.1 L366.4 250.5 L366.2 251.2 L366.2 252.9 L366.5 253.4 L366.4 254.4 L366.3 255.5 L366.5 257.3 L366.9 258.2 L366.7 258.9 L366.9 260.4 L366.9 261.1 L366.9 262.2 L367.5 263.4 L367.5 264.3 L367.9 264.8 L368.5 266.4 L368.6 266.9 L369 268.7 L369.1 269.6 L369.2 270.7 L369.2 271.3 L369.4 272.7 L369.5 273.2 L369.7 274.5 L369.8 275.1 L369.9 276.8 L369.6 277.9 L369.7 278.3 L370 279.3 L370.1 281 L370.3 281.9 L370.2 283 L370.5 283.9 L370.7 285 L370.6 285.3 L370.8 287.1 L370.7 287.9 L371.1 289.1 L370.8 289.8 L370.9 290.5 L371.4 291.8 L371.4 292.8 L371.4 293.6 L371.5 295.3 L371.7 295.7 L371.6 296.7 L372 297.9 L372.1 299.3 L372 300.2 L372.1 301.4 L372.4 301.9 L373 303 L372.8 304.6 L373.2 305.6 L373.2 306.2 L373.7 307.3 L373.9 308 L374 309 L374 309.9 L374 311.8 L374.6 312.7 L374.8 313.3 L375.2 314.5 L375.9 315.5 L376.1 316.9 L376.7 317.7 L376.5 318.7 L377 320 L377.2 320.8 L377.6 321.5 L377.8 322.8 L378.2 323.7 L378.6 325.1 L379.1 325.9 L380 326.5 L380.5 327.6 L381.4 328.5 L382.4 328.2 L383.2 328.7 L384.6 329.9 L385.3 330 L386.5 329.8 L387.5 330.6 L388.8 330.3 L389.9 330.4 L390.9 330.6 L392.2 331.3"/>
<path class="sol" stroke-width="2" d="M392.2 331.4 H513"/>
</g>
<g>
<path class="ax" stroke-width="1" d="M81.9 380.9 H264.7 V522.4"/>
<path class="ax" stroke-width="1.45" d="M81.9 380.4 V522.4 M77.9 522.4 H265.2"/>
<path class="ax" stroke-width="1.15" d="M77.9 522 H81.9M79.5 516.5 H81.9M79.5 511.1 H81.9M79.5 505.6 H81.9M79.5 500.2 H81.9M77.9 494.7 H81.9M79.5 489.3 H81.9M79.5 483.8 H81.9M79.5 478.4 H81.9M79.5 472.9 H81.9M77.9 467.5 H81.9M79.5 462 H81.9M79.5 456.6 H81.9M79.5 451.1 H81.9M79.5 445.7 H81.9M77.9 440.2 H81.9M79.5 434.8 H81.9M79.5 429.3 H81.9M79.5 423.9 H81.9M79.5 418.4 H81.9M77.9 413 H81.9M79.5 407.5 H81.9M79.5 402.1 H81.9M79.5 396.6 H81.9M79.5 391.2 H81.9M77.9 385.7 H81.9"/>
<path class="ax" stroke-width="1.2" d="M81.9 522.4 V526.3M95.7 522.4 V525.2M103.7 522.4 V525.2M109.4 522.4 V525.2M113.8 522.4 V525.2M117.5 522.4 V525.2M120.5 522.4 V525.2M123.2 522.4 V525.2M125.5 522.4 V525.2M127.6 522.4 V526.3M141.4 522.4 V525.2M149.4 522.4 V525.2M155.1 522.4 V525.2M159.5 522.4 V525.2M163.2 522.4 V525.2M166.2 522.4 V525.2M168.9 522.4 V525.2M171.2 522.4 V525.2M173.3 522.4 V526.3M187.1 522.4 V525.2M195.1 522.4 V525.2M200.8 522.4 V525.2M205.2 522.4 V525.2M208.9 522.4 V525.2M211.9 522.4 V525.2M214.6 522.4 V525.2M216.9 522.4 V525.2M219 522.4 V526.3M232.8 522.4 V525.2M240.8 522.4 V525.2M246.5 522.4 V525.2M250.9 522.4 V525.2M254.6 522.4 V525.2M257.6 522.4 V525.2M260.3 522.4 V525.2M262.6 522.4 V525.2M264.7 522.4 V526.3"/>
<text class="t8" text-anchor="middle" transform="translate(74.5 520.2) rotate(-90)">0</text>
<text class="t8" text-anchor="middle" transform="translate(74.5 492.9) rotate(-90)">70</text>
<text class="t8" text-anchor="middle" transform="translate(74.5 465.7) rotate(-90)">140</text>
<text class="t8" text-anchor="middle" transform="translate(74.5 438.4) rotate(-90)">210</text>
<text class="t8" text-anchor="middle" transform="translate(74.5 411.2) rotate(-90)">280</text>
<text class="t8" text-anchor="middle" transform="translate(74.5 383.9) rotate(-90)">350</text>
<text class="t8" text-anchor="middle" transform="translate(65.1 452.4) rotate(-90)">Counts</text>
<text class="t8" x="76.5" y="536.1">10<tspan class="t7" dx="-0.9" dy="-4.2">0</tspan></text>
<text class="t8" x="121.7" y="536.1">10<tspan class="t7" dx="-0.9" dy="-4.2">1</tspan></text>
<text class="t8" x="166.8" y="536.1">10<tspan class="t7" dx="-0.9" dy="-4.2">2</tspan></text>
<text class="t8" x="211.9" y="536.1">10<tspan class="t7" dx="-0.9" dy="-4.2">3</tspan></text>
<text class="t8" x="257.1" y="536.1">10<tspan class="t7" dx="-0.9" dy="-4.2">4</tspan></text>
<text class="t8" text-anchor="middle" x="172.5" y="544.9" textLength="40.3" lengthAdjust="spacingAndGlyphs">FL1-Height</text>
<text style="font-size:12px" x="215.2" y="399.8" textLength="38.8" lengthAdjust="spacingAndGlyphs">DE Mek</text>
<path class="dot" d="M82.7 518.8 L82.9 518.1 L83.3 516.9 L83.4 515.5 L83.7 514.9 L84 513.6 L84.1 512.7 L84.6 511.5 L84.8 510.5 L84.9 509.4 L85.2 508.5 L85.6 507.9 L85.6 506.5 L86.1 505.4 L86.2 504.5 L86.4 503.4 L86.6 502.4 L86.9 501.3 L86.9 500.6 L87.1 499.6 L87.3 498.5 L87.4 497.1 L87.7 496.2 L87.7 495.3 L88 494.1 L88 493.4 L88.2 492 L88.4 491 L88.6 489.8 L88.7 489.1 L88.8 488.3 L88.8 486.8 L88.9 486 L89.2 485 L89.2 484.1 L89.2 482.8 L89.5 482.2 L89.6 481 L89.7 479.8 L89.9 479 L89.8 477.7 L90.1 476.7 L90 476 L90.2 474.8 L90.3 474 L90.3 472.6 L90.4 471.6 L90.6 470.9 L90.8 469.7 L90.8 468.6 L90.9 467.8 L91.1 466.7 L91 465.6 L91.3 464.5 L91.5 463.7 L91.5 462.6 L91.6 461.6 L91.6 460.5 L91.8 459.4 L91.8 458.1 L92 457.5 L92 456.1 L92 455 L92.2 454.5 L92.3 453.1 L92.4 451.9 L92.5 451 L92.3 450.2 L92.4 449 L92.4 448 L92.6 447.2 L92.5 446.2 L92.6 444.8 L92.8 443.8 L92.8 442.9 L92.8 442 L92.9 441 L93.1 439.7 L92.9 438.8 L93 437.6 L93.2 436.2 L93.3 435.6 L93.4 434.4 L93.4 433.5 L93.4 432.6 L93.7 431.5 L93.7 430.2 L93.8 429 L93.7 428 L93.8 427.3 L93.9 426.1 L93.9 424.9 L94 424 L94 423.2 L94.1 422 L94.1 421.1 L94.2 419.8 L94.4 419.1 L94.5 418.1 L94.6 417.2 L94.6 416 L94.5 414.7 L94.5 414.1 L94.8 412.9 L94.7 411.8 L94.8 410.9 L95.1 409.7 L94.9 408.6 L95.1 408 L95.3 406.7 L95.2 405.5 L95.3 404.9 L95.5 404 L95.7 402.9 L95.7 401.9 L95.7 400.4 L95.9 399.6 L95.9 398.5 L96 397.8 L96.3 396.8 L96.4 395.5 L96.5 394.5 L96.6 393.7 L96.7 392.1 L97 391.4 L97.4 389.9 L97.8 389.3 L98 387.7 L98.4 387 L98.5 385.8 L99 385.1 L99.3 383.8 L99.5 382.5 L99.8 383.7 L99.7 384.9 L99.8 385.8 L100.1 387.1 L100.2 388.2 L100.3 388.9 L100.5 390 L100.6 391.3 L100.7 392.5 L100.7 393.6 L101 394.5 L101 395.8 L101.2 396.3 L101.3 397.9 L101.4 398.5 L101.7 399.8 L101.8 400.8 L101.7 401.4 L102.1 402.9 L102.2 403.6 L102.5 405.3 L102.8 406.3 L103.3 407.4 L103.5 408.3 L103.4 409.2 L103.7 410.4 L103.9 411.8 L103.8 413 L104 413.9 L104.1 415.2 L104.3 416.3 L104.1 417.3 L104.3 418.4 L104.3 419.3 L104.3 420.5 L104.2 421.1 L104.4 422.3 L104.4 423.2 L104.5 424.3 L104.5 425.8 L104.4 426.5 L104.5 427.6 L104.5 428.6 L104.7 429.9 L104.5 430.7 L104.7 432.2 L104.8 432.8 L104.7 434 L104.8 435 L104.8 436.6 L104.9 437.1 L104.7 438.2 L104.9 439.6 L104.9 440.5 L104.9 441.7 L105 442.9 L105.4 444 L105.9 445.2 L106.2 445.9 L106.6 447.5 L106.5 448.5 L106.5 449.6 L106.7 450.4 L106.7 451.2 L106.8 452.2 L106.7 453.3 L107.1 454.4 L107.1 455.5 L107.2 456.7 L107.2 457.2 L107.1 458.3 L107.1 459.2 L107.4 460.7 L107.3 461.6 L107.4 462.7 L107.5 463.5 L107.3 464.7 L107.4 465.6 L107.4 466.6 L107.6 467.4 L107.5 468.7 L107.5 469.9 L107.5 470.9 L107.6 472 L107.5 472.5 L107.7 474 L107.7 474.7 L108 476.2 L108 477 L108.3 478.2 L108.4 479.3 L108.4 480.1 L108.4 481.5 L108.6 482.3 L108.9 483.6 L109 484.7 L109.1 485.8 L109.2 486.4 L109.3 487.5 L109.6 488.6 L109.6 489.9 L110.1 491.1 L110 492.2 L110.1 492.9 L110.3 494.1 L110.7 495.1 L111 495.9 L111.4 497 L111.6 497.8 L111.9 498.9 L112.2 500.2 L112.5 500.9 L112.6 501.8 L113.3 502.8 L113.8 504.1 L114.3 504.8 L114.7 505.8 L115.4 506.9 L115.8 508 L116.4 508.5 L116.9 509.8 L117.6 510.6 L118.3 511.3 L118.9 512.1 L119.5 512.6 L120.5 513.2 L121.4 514.4 L122.3 514.9 L123.4 515.6 L124.1 516.3 L125.2 516.9 L126.3 517.5 L127.4 517.8 L128.4 518.8 L129.3 518.8 L130.4 519.4 L131.4 520 L132.3 519.8 L133.4 520.1 L134.4 520.5 L135.4 520.5 L136.5 521 L137.7 520.8 L138.6 520.4 L139.9 520.4 L141 520.5 L142.1 519.8 L143.1 520.3 L143.9 520.5 L145.1 520.8 L145.9 521.2 L147.1 521.1 L148.1 520.7 L149 520.6 L149.9 520.7 L151 520.2 L152.1 520.2 L152.9 520.1 L154 520.6 L154.9 520.8 L156.1 521 L156.9 521.2 L158 521.4 L159 521.4 L160 521.4 L161 521.4 L162 521.4 L163 521.4 L164 521.5 L165 521.5 L166 521.5 L167 521.5 L168 521.5 L169 521.5 L170 521.5"/>
<path class="sol" stroke-width="2.4" d="M82.3 512.7 L82.4 513.9 L82.3 515 L82.7 516 L82.7 516.7 L82.8 517.6 L82.6 519 L82.9 519.6 L82.7 520.6 L82.9 519.7 L82.9 519.2 L83.3 518.4 L83.3 517.2 L83.3 516.4 L83.6 517.1 L83.9 518.6 L84 519.7 L84.3 520.1 L85.5 519.9 L86.7 520 L87.5 520.2 L88.7 519.5 L89.9 519.8 L90.9 519.5 L92.2 519.9 L93.3 519.7 L94 518.7 L94.8 518 L95.2 516.7 L95.8 516.4 L96.5 514.6 L97.3 513.9 L98.2 512.3 L98.1 511.4 L98.6 510.6 L98.8 509.9 L99.1 508.9 L99.5 507.3 L99.8 506.4 L99.5 505.8 L99.6 503.9 L99.8 503.1 L100.3 502.6 L100.1 501.2 L100.4 500.4 L100.5 499.1 L100.3 497.8 L100.9 497 L101.3 496.2 L102.2 496.7 L101.9 496.4 L102.3 494.7 L102.5 493.8 L102.4 492.9 L102.6 492.2 L102.6 491.2 L102.9 490 L103.1 489.3 L102.9 488 L103.3 487.2 L103.4 485.7 L103.7 485.3 L103.6 483.9 L104.1 482.7 L104 482.3 L104.4 480.7 L104.6 479.7 L104.7 479.1 L104.7 477.6 L104.9 476.6 L105 475.4 L105.4 474.7 L105.4 473.8 L106 472.8 L105.8 471.9 L106 470.4 L106.1 469.2 L106.3 468.3 L106.2 468 L106.5 466.9 L106.6 465.6 L106.7 464.9 L106.6 463.7 L106.7 462.2 L107 461.5 L107.2 460.7 L107.1 459.1 L106.9 458.4 L107.3 457.1 L107.1 455.8 L107.2 455.4 L107.2 454 L107.4 453.4 L107.8 451.8 L107.4 451.6 L107.9 449.8 L107.7 449.1 L107.7 448 L107.9 446.8 L107.7 445.7 L107.8 444.6 L108.2 444.1 L108.2 443.1 L108.6 441.6 L108.6 440.4 L109 439.7 L108.7 438.3 L109.1 437.4 L109.3 436.3 L109.4 435.8 L109.3 434.5 L109.4 433.6 L109.8 432.7 L109.7 431 L110 430.4 L109.9 429.1 L110.2 428 L110.4 427 L110.3 426.2 L110.6 425.4 L110.5 424.4 L110.8 425.3 L111.3 426.9 L111.6 428.4 L111.5 426.8 L111.9 425.7 L111.8 424.6 L112.2 424.1 L112.3 423.2 L112.5 421.5 L112.5 420.8 L112.5 419.7 L112.7 420.3 L113.2 421.5 L113.6 423.2 L113.6 423.7 L113.5 425 L113.8 425.9 L113.9 427 L114 427.6 L113.8 428.9 L114 429.8 L114.2 430.7 L114.1 432 L114.3 431.2 L114.2 430 L114.5 429.4 L114.4 427.6 L114.3 427.1 L114.3 425.6 L114.6 425.4 L114.2 424 L114.5 422.8 L114.3 422.2 L114.6 420.9 L114.3 419.9 L114.4 419.3 L114.4 417.6 L114.7 416.4 L114.5 415.3 L114.5 414.6 L114.8 413.2 L114.7 412.6 L115 411.2 L115 410 L115.5 408.8 L115.4 408.2 L115.8 407.3 L115.8 406.2 L116.1 406.7 L116.4 408.2 L116.6 406.6 L116.5 406.3 L116.6 405.1 L116.8 403.6 L116.9 402.7 L117.3 401.4 L117.3 400.5 L117.2 399.8 L117.6 398.2 L118 397.6 L118.6 396.2 L118.6 395.2 L119.1 396.4 L119.5 396.8 L119.8 398.3 L119.8 396.9 L120.1 395.9 L120.3 394.6 L120.5 394.4 L120.9 393.1 L121.4 392.2 L121.6 391.3 L122.3 390.3 L122.8 389 L123 387.4 L123.2 386.4 L123.5 385.1 L123.5 384.1 L123.8 383 L124.1 382.3 L124.1 382.7 L124.2 384.2 L124.2 385.1 L124 386.3 L124.3 387 L124.3 388.3 L124.5 389.3 L124.9 390.3 L126.4 389.2 L126.6 390.3 L127 391.5 L126.8 392.5 L127.2 393.6 L127.3 394.9 L127.9 394.4 L128.2 393.1 L129 392 L129 393.3 L128.8 394.5 L129 394.8 L129.1 396.5 L129.1 397.3 L129.1 398.7 L129.3 399.2 L129.2 400.4 L129.6 401.7 L129.2 403 L129.3 403.8 L129.5 404.9 L129.6 405.4 L129.6 407.1 L129.8 407.7 L129.6 409.1 L129.9 409.6 L129.9 411.3 L129.8 411.8 L129.9 413.3 L129.7 413.8 L129.8 415.2 L129.8 416 L130 417.1 L129.8 418.4 L130.3 417.1 L130.2 415.7 L130.3 415 L130.3 414.3 L130.2 413.4 L130.1 411.6 L130.3 411.4 L130.5 410.4 L130.4 409.4 L130.5 407.7 L130.5 407.3 L130.5 406.1 L130.4 404.8 L130.6 404 L130.7 402.6 L130.5 401.9 L130.9 401.2 L130.7 399.8 L130.9 398.7 L131 398.4 L130.9 397.1 L131.2 396.2 L131.3 395.2 L131.2 396.3 L131.5 396.6 L131.6 397.9 L131.2 398.6 L131.6 400.2 L131.4 401 L131.6 402.4 L131.6 403.2 L131.6 403.7 L131.6 404.9 L131.9 405.8 L131.7 406.8 L131.7 407.9 L131.9 409.2 L131.9 410.3 L132.1 411.8 L132.1 412.8 L132.2 413.2 L132.3 414.2 L132.3 415.2 L132.6 417 L132.6 417.5 L132.7 418.5 L132.9 419.6 L132.8 421 L133.1 421.3 L133.3 422.9 L133.2 423.9 L133.6 424.7 L133.5 425.6 L133.7 427 L133.9 428.2 L133.8 428.7 L134.3 430.2 L134.4 431.1 L134.4 432.3 L134.7 432.9 L134.7 433.6 L135.2 435.3 L135 435.9 L135.3 437 L135.4 438.4 L135.6 439.1 L136 440.2 L136 441 L136.1 442.3 L136.5 443 L136.4 444.1 L136.6 445.7 L136.8 446.3 L136.9 448 L137 449 L137.1 449.7 L137.2 451.3 L137.3 451.8 L137.4 452.9 L137.8 454.4 L138 455.6 L137.9 456.6 L137.8 457.7 L138.2 458.1 L138.6 459.8 L138.7 460.1 L139.1 461.8 L139.2 463.1 L139.2 463.3 L139.5 464.4 L140 466 L140 466.6 L140.3 468.1 L140.6 469.4 L140.6 470.4 L140.7 470.9 L140.7 471.8 L141.2 473.4 L141.2 473.7 L141.1 474.7 L142.4 474.2 L142.5 475.1 L142.9 475.7 L143 477.5 L143.2 478.2 L143.5 479.4 L143.4 480.3 L144.2 482 L144.8 483.1 L144.6 483.7 L144.8 485.2 L144.8 486.3 L145.3 487 L145.1 488.3 L145.5 489.2 L145.7 490.2 L145.8 491.4 L146.2 490.4 L146.3 488.8 L146.3 487.8 L146.8 487.3 L146.9 486.3 L147.6 487.2 L147.9 488.2 L148.1 489.1 L148.2 490.3 L148.6 490.8 L149 491.6 L149.2 493.2 L149.3 494.2 L150 495.2 L150.4 495.7 L152.2 496.6 L152.4 497.6 L152.5 498.7 L153.1 499.9 L153.3 500.8 L153.6 502.1 L153.8 501 L154.6 499.7 L155.1 498.8 L155.4 500.4 L156.2 501.4 L156.5 502.1 L157.1 503.2 L157.6 504.3 L158.3 505.4 L159 505.7 L159.8 506.6 L160.5 507.5 L161.4 508.8 L162.2 507.6 L163.1 506.9 L163.4 508.3 L163.8 509 L164.3 510.3 L165.2 510.6 L165.8 511.9 L166.8 513.1 L167.4 514.2 L168.4 512.6 L169.6 511.7 L170.2 513 L171.1 513.7 L172.2 515 L173.2 515.4 L174.3 516 L175.3 517 L176.4 517.7 L177.5 517.2 L178.9 516.8 L179.8 516.9 L181.1 517.1 L182.1 517.2 L183 518.2 L184.2 518.7 L184.8 519 L186 518.8 L186.9 518.6 L188 518.9 L188.9 518.8 L190 519.2 L191 518.9 L192.2 519.3 L193.2 520 L193.8 519.9 L195.2 519.9 L196 519.9 L196.8 519.9 L197.8 520.1 L199.1 520.4 L200.2 520.6 L200.9 520.9 L202.1 520.6 L203.2 520.8 L203.9 520.8 L204.9 521.2 L205.9 521.2 L206.6 519.5 L207.5 518.7 L208.3 519.6 L209.2 521 L210.1 521.2 L211.2 521 L212.1 520.4 L212.8 520.8 L214.2 520.7 L215 520.5 L216 521.3 L217 521.3 L217.8 520.7 L218.6 520.4 L219.3 519.7 L220.1 520.4 L221 520.6 L222.5 520.7 L223.6 520.4 L224.4 520.5 L224.8 519.5 L225.6 519.7 L226.4 520.9 L227.7 521.2 L228.7 520.9 L229.6 520.5 L230.5 519.9 L231.1 519.4 L232 519.7 L233 521 L234 521 L235 521 L236 521.1 L237.1 521.1 L238.1 521.1 L239.1 521.1 L240.1 521.1 L241.1 521.2 L242.1 521.2 L243.2 521.2 L244.2 521.2 L245.2 521.2 L246.2 521.3 L247.2 521.3 L248.2 521.3 L249.3 521.3 L250.3 521.3 L251.3 521.3 L252.3 521.4 L253.3 521.4 L254.3 521.4 L255.4 521.4 L256.4 521.4 L257.4 522"/>
<path class="sol" stroke-width="2" d="M257.4 522.1 H264.5"/>
</g>
<g>
<path class="ax" stroke-width="1" d="M330.6 378.4 H513.4 V519.7"/>
<path class="ax" stroke-width="1.45" d="M330.6 377.9 V519.7 M326.6 519.7 H513.9"/>
<path class="ax" stroke-width="1.15" d="M326.6 519.4 H330.6M328.2 514.9 H330.6M328.2 510.4 H330.6M328.2 505.8 H330.6M328.2 501.3 H330.6M326.6 496.8 H330.6M328.2 492.3 H330.6M328.2 487.8 H330.6M328.2 483.2 H330.6M328.2 478.7 H330.6M326.6 474.2 H330.6M328.2 469.7 H330.6M328.2 465.2 H330.6M328.2 460.6 H330.6M328.2 456.1 H330.6M326.6 451.6 H330.6M328.2 447.1 H330.6M328.2 442.6 H330.6M328.2 438 H330.6M328.2 433.5 H330.6M326.6 429 H330.6M328.2 424.5 H330.6M328.2 420 H330.6M328.2 415.4 H330.6M328.2 410.9 H330.6M326.6 406.4 H330.6M328.2 401.9 H330.6M328.2 397.4 H330.6M328.2 392.8 H330.6M328.2 388.3 H330.6M326.6 383.8 H330.6M328.2 379.3 H330.6"/>
<path class="ax" stroke-width="1.2" d="M330.6 519.7 V523.6M344.4 519.7 V522.5M352.4 519.7 V522.5M358.1 519.7 V522.5M362.5 519.7 V522.5M366.2 519.7 V522.5M369.2 519.7 V522.5M371.9 519.7 V522.5M374.2 519.7 V522.5M376.3 519.7 V523.6M390.1 519.7 V522.5M398.1 519.7 V522.5M403.8 519.7 V522.5M408.2 519.7 V522.5M411.9 519.7 V522.5M414.9 519.7 V522.5M417.6 519.7 V522.5M419.9 519.7 V522.5M422 519.7 V523.6M435.8 519.7 V522.5M443.8 519.7 V522.5M449.5 519.7 V522.5M453.9 519.7 V522.5M457.6 519.7 V522.5M460.6 519.7 V522.5M463.3 519.7 V522.5M465.6 519.7 V522.5M467.7 519.7 V523.6M481.5 519.7 V522.5M489.5 519.7 V522.5M495.2 519.7 V522.5M499.6 519.7 V522.5M503.3 519.7 V522.5M506.3 519.7 V522.5M509 519.7 V522.5M511.3 519.7 V522.5M513.4 519.7 V523.6"/>
<text class="t8" text-anchor="middle" transform="translate(323.4 517.6) rotate(-90)">0</text>
<text class="t8" text-anchor="middle" transform="translate(323.4 495) rotate(-90)">40</text>
<text class="t8" text-anchor="middle" transform="translate(323.4 472.4) rotate(-90)">80</text>
<text class="t8" text-anchor="middle" transform="translate(323.4 449.8) rotate(-90)">120</text>
<text class="t8" text-anchor="middle" transform="translate(323.4 427.2) rotate(-90)">160</text>
<text class="t8" text-anchor="middle" transform="translate(323.4 404.6) rotate(-90)">200</text>
<text class="t8" text-anchor="middle" transform="translate(323.4 382) rotate(-90)">240</text>
<text class="t8" text-anchor="middle" transform="translate(313.8 449.9) rotate(-90)">Counts</text>
<text class="t8" x="325.2" y="533.4">10<tspan class="t7" dx="-0.9" dy="-4.2">0</tspan></text>
<text class="t8" x="370.4" y="533.4">10<tspan class="t7" dx="-0.9" dy="-4.2">1</tspan></text>
<text class="t8" x="415.5" y="533.4">10<tspan class="t7" dx="-0.9" dy="-4.2">2</tspan></text>
<text class="t8" x="460.7" y="533.4">10<tspan class="t7" dx="-0.9" dy="-4.2">3</tspan></text>
<text class="t8" x="505.8" y="533.4">10<tspan class="t7" dx="-0.9" dy="-4.2">4</tspan></text>
<text class="t8" text-anchor="middle" x="421.2" y="542.2" textLength="40.3" lengthAdjust="spacingAndGlyphs">FL1-Height</text>
<text style="font-size:12px" x="435.4" y="398.1" textLength="58.6" lengthAdjust="spacingAndGlyphs">D330N Erk</text>
<path class="dot" d="M331 518.5 L332 518 L333.2 518.1 L334.1 517.6 L335.1 517.2 L336 516.7 L336.8 516 L337.9 515.6 L338.9 515.2 L339.7 514.2 L340.3 513.4 L341.2 512.4 L342.1 511.4 L342.4 510.7 L342.6 509.5 L343 508.6 L343.2 507.3 L343.5 506.4 L343.8 505.6 L344.2 504.4 L344.4 503.7 L344.5 502.3 L344.7 501.3 L345 500.5 L345.1 499.2 L345.2 498.2 L345.5 497.4 L345.5 496.4 L345.7 495.3 L345.9 494 L346.2 493.2 L346.3 491.9 L346.4 490.9 L346.6 489.7 L346.8 488.6 L346.8 487.7 L346.9 486.5 L347.2 485.8 L347.3 484.4 L347.5 483.3 L347.6 482.5 L347.7 481.1 L347.8 480.2 L348.2 479.4 L348.1 478.1 L348.3 476.9 L348.5 475.9 L348.7 474.8 L348.9 474 L348.9 472.5 L349 471.5 L349.1 470.7 L349.1 469.7 L349.1 468.5 L349.4 467.1 L349.3 466 L349.5 465.3 L349.5 464.2 L349.6 463.1 L349.7 462.2 L349.8 460.6 L349.9 459.9 L350.2 458.7 L350.1 457.8 L350.4 456.3 L350.4 455.5 L350.4 454.1 L350.6 453.5 L350.9 452.1 L351 451.3 L351.2 450.2 L351.3 449.2 L351.4 448.1 L351.4 447.1 L351.6 446 L351.7 445 L351.9 443.9 L351.9 443 L352.1 441.9 L352.2 440.7 L352.2 439.6 L352.4 438.8 L352.5 437.6 L352.4 436.8 L352.5 435.5 L352.4 434.5 L352.6 433.6 L352.6 432.5 L352.5 431.4 L352.6 430.3 L352.6 429.5 L352.8 428.2 L352.7 427.4 L352.8 426.3 L352.8 425.3 L352.8 423.9 L352.8 422.9 L353 422.1 L353 421.3 L353 419.9 L353 418.8 L353.1 418.1 L353.1 416.9 L353.1 416 L353.3 415.1 L353.4 414.1 L353.4 412.9 L353.4 412.1 L353.5 410.7 L353.5 410.1 L353.8 408.8 L353.8 408 L353.8 406.7 L353.9 405.8 L353.8 405 L354 403.7 L354.1 402.7 L354 401.7 L354.2 400.5 L354.3 399.8 L354.4 398.8 L354.5 397.5 L354.5 396.7 L354.7 395.5 L354.7 394.8 L354.9 393.4 L354.9 392.6 L355 391.3 L355 390.5 L355.2 389.4 L355.2 388.3 L355.3 387.3 L355.4 386.5 L355.4 385.5 L355.6 384.4 L355.6 383.3 L355.8 382 L356.2 381.4 L356.4 380.3 L356.8 379.4 L357 380.3 L357.3 381.6 L357.8 382.8 L358 383.7 L358.3 384.6 L358.3 386 L358.6 387.1 L358.7 387.9 L358.9 388.7 L359.1 389.8 L359.7 391 L360.2 391.9 L360.8 393 L360.9 393.9 L360.8 395.1 L360.8 396.4 L360.8 397.4 L360.9 398.2 L361 399.4 L360.9 400.2 L361.1 401.4 L360.9 402.6 L361.1 403.5 L361.1 404.8 L361.1 405.7 L361.3 406.7 L361.3 407.7 L361.4 408.9 L361.5 409.8 L361.5 411 L361.6 412.1 L361.7 413.1 L361.7 413.8 L362 415.1 L362 416 L362 416.9 L362 418.1 L362.2 419 L362.2 419.9 L362.2 421 L362.2 422.1 L362.3 423 L362.3 424.3 L362.3 425.2 L362.4 426.3 L362.5 427.4 L362.5 428.2 L362.5 429.5 L362.6 430.5 L362.5 431.4 L362.7 432.6 L362.7 433.3 L362.7 434.3 L362.9 435.8 L362.9 436.5 L362.9 437.6 L363 438.8 L362.8 440.1 L363 441.1 L363.1 442.1 L363.2 443 L363.2 444.1 L363.1 445.2 L363.1 446.2 L363.3 447.4 L363.3 448.6 L363.3 450.1 L363.6 451.2 L363.6 452.2 L363.7 453.2 L363.8 454.5 L363.9 455.3 L363.9 456.7 L364.1 457.7 L364.3 458.5 L364.4 459.7 L364.5 460.8 L364.5 462.1 L364.6 463.1 L364.9 464 L365 465.1 L365.1 466.1 L365.4 467.3 L365.5 468.4 L365.5 469.6 L365.8 470.7 L365.9 471.5 L366 472.8 L366.2 473.8 L366.5 474.8 L366.9 476.1 L367 477.4 L367.2 478.5 L367.1 479.7 L366.8 480.6 L366.7 481.8 L366.5 483 L366.8 484 L367.1 485.2 L367.6 486.3 L368 487.2 L368.4 488 L368.9 489.1 L369.1 490.4 L369.2 491.4 L369.3 492.4 L369.6 493.1 L369.6 494.3 L369.9 495.2 L370 496.5 L370.2 497.2 L370.3 498.4 L370.6 499.5 L370.9 500.5 L371.1 501.8 L371.2 503 L371.5 503.6 L371.8 504.9 L372 505.9 L372.4 506.9 L372.8 507.9 L373.1 509.2 L373.4 510.1 L373.7 511.2 L374.2 512 L374.8 513.2 L375.3 514.2 L376.2 514.7 L376.6 515.7 L377.2 516.6 L378.2 517.1 L379.1 517.7 L380.1 518.3 L381.1 518.4 L381.9 518.8 L383 518.8 L384 519.2 L385.1 518.9 L385.9 519.2 L387 519.3 L388 519.1 L388.9 519.4 L390 519.2"/>
<path class="sol" stroke-width="2.4" d="M330.8 495 L330.8 495.9 L330.8 497.2 L331 498 L330.7 498.9 L331.1 499.9 L331 501.1 L330.9 502.1 L330.8 503.1 L331.1 503.6 L330.9 505.3 L331.2 505.6 L331.1 507.1 L331.2 508 L330.9 508.8 L331.2 510.2 L331 511.1 L331.2 512.1 L330.9 512.9 L331.1 514.1 L331.1 514.7 L331.3 515.8 L331.5 514.8 L331.5 514.2 L331.4 513 L331.5 512.2 L331.6 510.9 L332 511.6 L332.2 513 L332.4 513.8 L332.7 515.1 L334.2 513.9 L334.4 514.7 L335.1 515.6 L335.4 517 L335.8 517.8 L336.7 517 L337.6 517 L339 516.5 L339.3 516.1 L339.8 514.6 L340.5 513.9 L342.2 514.9 L342.9 513.6 L344 512.1 L344.9 513.6 L345.7 514.1 L346.7 512.6 L347.7 511.6 L348.7 513.2 L349.4 512.1 L350.3 511.5 L351 512.3 L351.9 513.4 L352.2 512.6 L352.8 511.6 L353.3 510.9 L353.4 509.8 L355.2 508.8 L355.5 507.8 L356 507 L356.2 506.4 L356.3 504.6 L358.1 503.9 L358.5 502.3 L358.8 501 L359.2 499.8 L359.5 498.6 L359.7 497.8 L359.9 496.7 L360.4 495.1 L360.4 494.3 L360.7 493.4 L360.7 492.1 L361.1 491 L361.3 490.5 L361.4 489.5 L361.2 488.4 L361.5 486.8 L361.8 486.2 L361.9 485.1 L361.7 484.4 L361.9 482.8 L362.2 481.7 L362.2 481.1 L362.2 480.1 L362.3 478.9 L362.7 478 L362.5 476.6 L363.1 475.7 L363 474.7 L363.2 474 L363.3 472.7 L363.4 471.7 L363.4 471.1 L363.8 469.9 L364 468.6 L364 467.4 L364.1 466.8 L364.3 465.9 L364.4 464.3 L364.5 463.5 L364.4 462.4 L364.8 461.8 L364.9 460.6 L364.7 459.1 L365 458.1 L365 457 L365 456.5 L365 455.6 L365.1 454.6 L365.2 453.1 L365.3 451.8 L365.3 451.1 L365.2 450.5 L365.4 448.7 L365.7 447.9 L365.5 446.7 L365.5 446.3 L365.7 445.1 L365.6 443.8 L366 442.9 L366.1 442.3 L365.8 441.2 L365.8 440 L366.3 438.9 L366.3 438 L366.2 436.7 L366.3 435.5 L366.4 434.7 L366.6 433.7 L366.8 432.5 L367 431.7 L366.9 430.2 L367.2 429.2 L366.9 428.1 L367.3 427.7 L367.4 426.4 L367.6 425.5 L367.5 424.1 L367.7 423 L367.5 422.2 L367.9 420.8 L368 420.4 L367.8 418.7 L368.1 417.8 L368.5 417.4 L368.4 416.2 L368.6 414.6 L368.9 413.6 L368.6 412.9 L368.7 411.9 L369 411.3 L369.2 410.2 L369.5 408.9 L369.3 407.6 L369.6 406.7 L369.8 405.7 L369.8 404.7 L370.2 403.3 L370 402 L370 401 L370.3 400.6 L370.5 399.7 L370.7 398.2 L370.7 396.6 L370.7 395.8 L372.1 394.1 L372.1 395.4 L372.2 396.5 L372.2 397.8 L372.6 398.7 L372.4 399.8 L372.8 401.1 L372.9 401.3 L373.1 402.9 L372.9 404.2 L373.2 403.1 L373 401.7 L373.1 400.4 L373.3 399.6 L373.1 398.5 L373.4 397.4 L373.4 396.4 L373.5 394.8 L373.3 394.2 L373.5 393.5 L373.5 392 L373.5 391 L373.6 390.4 L373.3 388.8 L373.7 387.6 L373.7 386.6 L373.7 386.3 L373.6 384.9 L373.6 384.2 L373.8 383.1 L373.7 382.1 L374 381.3 L374.1 379.8 L373.9 378.9 L373.9 380.3 L373.8 381.1 L374.1 382.4 L373.8 382.8 L374.1 384.4 L373.9 385.3 L374.1 386 L374.4 386.6 L374.1 387.7 L374.1 388.8 L374.4 390.1 L374.2 391.3 L374.4 391.7 L374.6 393.3 L374.6 394.4 L375.1 394.8 L374.9 396.3 L375.5 396.6 L375.7 398.2 L375.9 399.3 L376.3 397.7 L376.5 397.1 L376.5 395.8 L376.9 394.8 L377.1 393.1 L377.2 392.2 L377.3 393.7 L377.9 394.2 L378 395.8 L377.9 397 L378.4 397.7 L378.3 398.8 L378.8 400.1 L379.1 400.9 L379 402.2 L379.5 403.2 L379.4 404.8 L379.6 405.8 L379.8 406.6 L380.2 408.2 L380.2 408.8 L380.2 409.7 L380.4 411.1 L380.8 412.1 L380.8 413.1 L380.8 413.8 L381 414.7 L381.3 415.7 L381.3 416.8 L381.6 418.1 L381.6 418.9 L381.9 420.4 L381.9 421.1 L382.2 421.9 L382.1 422.8 L382.4 424.4 L382.4 425.2 L382.9 426.3 L382.8 427.6 L383.2 428.3 L383 429.5 L383.4 430.8 L383.6 431.3 L383.6 432.4 L383.6 433.6 L383.9 435 L383.9 435.7 L384 436.4 L384.1 437.9 L384.1 438.7 L384.2 439.4 L384.2 441.2 L384.1 442.3 L384.1 443.2 L384.4 443.9 L384.4 445.3 L384.8 445.7 L385.1 446.8 L385 448 L385.3 449.5 L385.6 450.3 L385.6 450.8 L385.6 452.2 L386 453.2 L386.3 454.3 L386.2 455.4 L386.3 456.9 L386.6 457.6 L386.7 458.5 L386.8 459.8 L387 461.3 L387.2 461.7 L387.1 462.7 L387.7 462.3 L388.5 460.8 L388.9 459.9 L389 461.1 L389.1 461.8 L389.6 463.4 L389.7 464.7 L390.1 465.3 L390 466.6 L390.5 467.4 L390.4 468.6 L390.6 469.8 L391.1 470.3 L391.2 471.3 L391.3 472.2 L391.8 473.4 L392 474.3 L392.2 475.5 L392.4 476.3 L392.5 477.1 L392.9 478.6 L392.9 479.5 L392.9 480.2 L393.2 481.7 L393.3 482.3 L393.9 483.6 L394.1 484.1 L394 485.5 L394.3 486.5 L394.5 487.5 L394.8 488.5 L395.2 489.1 L395.4 489.7 L395.6 490.7 L395.6 492 L396 493 L395.9 494.4 L396.3 495.3 L396.5 495.7 L396.8 496.8 L396.9 497.6 L397 499.2 L397.4 500.1 L397.5 501.2 L397.9 501.8 L398.1 503.2 L398.4 503.8 L398.5 505 L398.7 506 L399.2 507.2 L399.2 508.4 L399.4 509.4 L399.8 509.8 L400.2 511.2 L400.5 512.5 L401.2 512.9 L401.4 514.2 L401.7 514.8 L402.2 516.4 L402.5 516.8 L403.4 517.7 L404.2 519.4"/>
<path class="sol" stroke-width="2" d="M404.2 519.4 H513"/>
</g>
</svg>
</body></html>
